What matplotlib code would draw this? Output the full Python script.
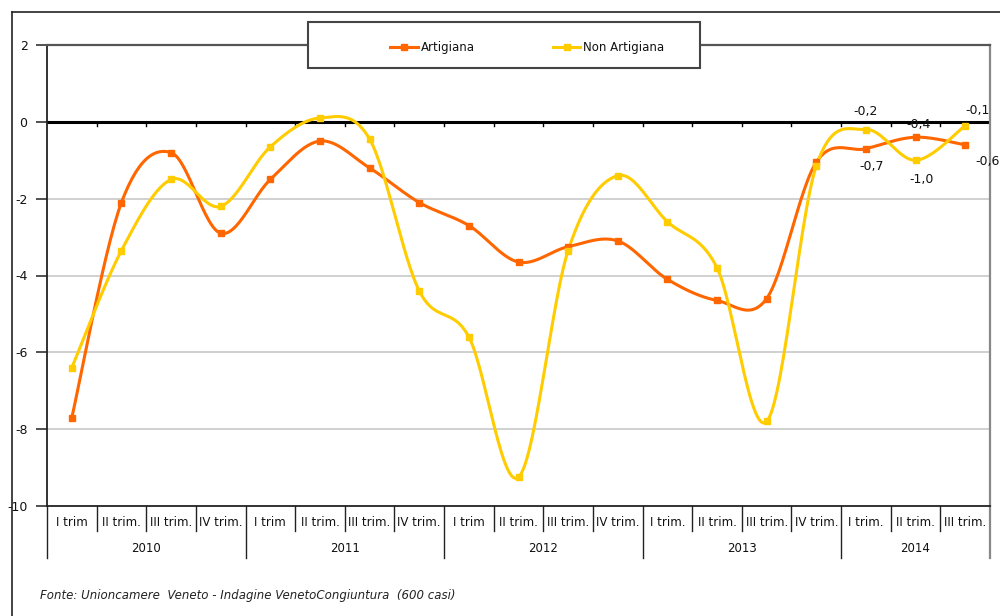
import numpy as np
import matplotlib
matplotlib.use("Agg")
import matplotlib.pyplot as plt
from matplotlib.patches import Rectangle
from matplotlib.lines import Line2D

years = ["2010", "2011", "2012", "2013", "2014"]
quarters = [
    ["I trim", "II trim.", "III trim.", "IV trim."],
    ["I trim", "II trim.", "III trim.", "IV trim."],
    ["I trim", "II trim.", "III trim.", "IV trim."],
    ["I trim.", "II trim.", "III trim.", "IV trim."],
    ["I trim.", "II trim.", "III trim."],
]
artigiana = [-7.7, -2.1, -0.8, -2.9, -1.5, -0.5, -1.2, -2.1, -2.7, -3.65, -3.25, -3.1,
             -4.1, -4.65, -4.6, -1.05, -0.7, -0.4, -0.6]
non_artigiana = [-6.4, -3.35, -1.5, -2.2, -0.65, 0.1, -0.45, -4.4, -5.6, -9.25, -3.35, -1.4,
                 -2.6, -3.8, -7.8, -1.15, -0.2, -1.0, -0.1]
yticks = [2, 0, -2, -4, -6, -8, -10]
ORANGE = "#FF6600"
YELLOW = "#FFCC00"

def smooth(xs, ys, n=30):
    xs = np.asarray(xs, float); ys = np.asarray(ys, float)
    P = np.column_stack([xs, ys])
    out = []
    for i in range(len(P) - 1):
        p0 = P[i - 1] if i > 0 else P[i]
        p1 = P[i]; p2 = P[i + 1]
        p3 = P[i + 2] if i + 2 < len(P) else P[i + 1]
        c1 = p1 + (p2 - p0) / 6.0
        c2 = p2 - (p3 - p1) / 6.0
        t = np.linspace(0, 1, n)[:, None]
        seg = (1 - t) ** 3 * p1 + 3 * (1 - t) ** 2 * t * c1 + 3 * (1 - t) * t ** 2 * c2 + t ** 3 * p2
        out.append(seg if i == 0 else seg[1:])
    s = np.vstack(out)
    return s[:, 0], s[:, 1]

W, H = 1000, 616
fig = plt.figure(figsize=(W / 100, H / 100), dpi=100)
fig.patch.set_facecolor("white")

L, R, T, B = 47, 990, 45, 506
ax = fig.add_axes([L / W, 1 - B / H, (R - L) / W, (B - T) / H])
n = len(artigiana)
x = np.arange(n)
ax.set_xlim(-0.5, n - 0.5)
ax.set_ylim(-10, 2)

# grid
for v in [-2, -4, -6, -8]:
    ax.axhline(v, color="#C8C8C8", lw=1.2, zorder=1)
ax.axhline(0, color="black", lw=2.2, zorder=2)
# tick marks on zero line
for b in np.arange(-0.5, n, 1.0)[1:-1]:
    ax.plot([b, b], [0, -0.12], color="black", lw=1, zorder=2)

for vals, col, lab in [(artigiana, ORANGE, "Artigiana"), (non_artigiana, YELLOW, "Non Artigiana")]:
    sx, sy = smooth(x, vals)
    ax.plot(sx, sy, color=col, lw=2.2, zorder=3, solid_capstyle="round")
    ax.plot(x, vals, ls="none", marker="s", ms=5, color=col, zorder=4)

# spines
for s in ["left", "bottom"]:
    ax.spines[s].set_color("#222222"); ax.spines[s].set_linewidth(1.3)
ax.spines["top"].set_color("#555555"); ax.spines["top"].set_linewidth(1.6)
ax.spines["right"].set_color("#888888"); ax.spines["right"].set_linewidth(1.6)

ax.set_yticks(yticks)
ax.set_yticklabels([str(v) for v in yticks])
ax.tick_params(axis="y", direction="out", length=8, width=1.2, color="#333333",
               labelsize=9, labelcolor="#111111", pad=6)
ax.set_xticks([])

# category table
tr = ax.get_xaxis_transform()
hpx = B - T
q_end = -(531 - B) / hpx
y_end = -(558 - B) / hpx
q_lab = -(522 - B) / hpx
y_lab = -(548 - B) / hpx
idx = 0
for yi, (yr, qs) in enumerate(zip(years, quarters)):
    start = idx
    for q in qs:
        ax.text(idx, q_lab, q, transform=tr, ha="center", va="center", fontsize=8.5, color="#111111")
        if idx != start:
            ax.add_line(Line2D([idx - 0.5, idx - 0.5], [0, q_end], transform=tr, color="#222222", lw=1, clip_on=False))
        idx += 1
    ax.text((start + idx - 1) / 2, y_lab, yr, transform=tr, ha="center", va="center", fontsize=8.5, color="#111111")
    ax.add_line(Line2D([start - 0.5, start - 0.5], [0, y_end], transform=tr, color="#222222", lw=1, clip_on=False))
ax.add_line(Line2D([idx - 0.5, idx - 0.5], [0, y_end], transform=tr, color="#888888", lw=1.6, clip_on=False))

# data labels
def fmt(v):
    return ("%.1f" % v).replace(".", ",")
lab_specs = [
    (16, non_artigiana[16], (0, 13)), (16, artigiana[16], (4, -13)),
    (17, artigiana[17], (2, 9)), (17, non_artigiana[17], (4, -14)),
    (18, non_artigiana[18], (9, 11)), (18, artigiana[18], (16, -12)),
]
for xi, v, off in lab_specs:
    ax.annotate(fmt(v), (xi, v), xytext=off, textcoords="offset points", ha="center", va="center",
                fontsize=9, color="#111111", zorder=5)

# legend box
lx0, lx1, ly0, ly1 = 308, 700, 22, 68
fig.add_artist(Rectangle((lx0 / W, 1 - ly1 / H), (lx1 - lx0) / W, (ly1 - ly0) / H, transform=fig.transFigure,
                         facecolor="white", edgecolor="#444444", lw=1.5, zorder=10))
for (x0, x1, tx, col, lab) in [(390, 418, 421, ORANGE, "Artigiana"), (553, 580, 583, YELLOW, "Non Artigiana")]:
    yy = 1 - 47 / H
    fig.add_artist(Line2D([x0 / W, x1 / W], [yy, yy], transform=fig.transFigure, color=col, lw=2.2, zorder=11))
    fig.add_artist(Line2D([(x0 + x1) / 2 / W], [yy], transform=fig.transFigure, color=col, marker="s", ms=5, ls="none", zorder=12))
    fig.text(tx / W, yy, lab, ha="left", va="center", fontsize=8.5, color="#111111", zorder=12)

# outer frame
fig.add_artist(Line2D([12 / W, 12 / W], [0, 1 - 12 / H], transform=fig.transFigure, color="#222222", lw=1.2))
fig.add_artist(Line2D([12 / W, 1], [1 - 12 / H, 1 - 12 / H], transform=fig.transFigure, color="#222222", lw=1.2))

fig.text(40 / W, 1 - 595 / H, "Fonte: Unioncamere  Veneto - Indagine VenetoCongiuntura  (600 casi)",
         ha="left", va="center", fontsize=8.5, style="italic", color="#222222")

fig.savefig("out.png", dpi=100, facecolor="white")
